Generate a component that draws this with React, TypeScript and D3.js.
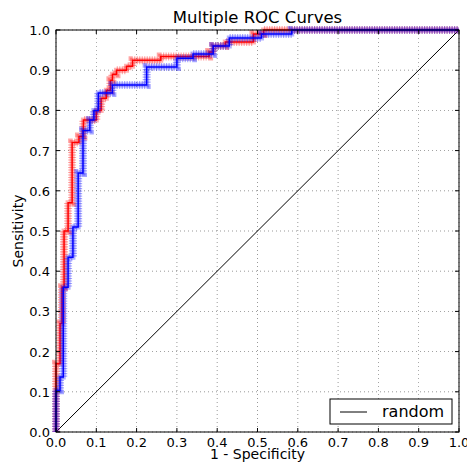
import React from "react";
import * as d3 from "d3";

const title = "Multiple ROC Curves";
const xLabel = "1 - Specificity";
const yLabel = "Sensitivity";
const ticks = [0, 0.1, 0.2, 0.3, 0.4, 0.5, 0.6, 0.7, 0.8, 0.9, 1.0];

// step ROC curve vertices [fpr, tpr]
const redFpr = [0, 0, 0.01, 0.01, 0.015, 0.015, 0.02, 0.02, 0.03, 0.03, 0.04, 0.04, 0.057, 0.057, 0.068, 0.068, 0.1, 0.1, 0.112, 0.112, 0.125, 0.125, 0.135, 0.135, 0.14, 0.14, 0.15, 0.15, 0.175, 0.175, 0.19, 0.19, 0.2, 0.2, 0.26, 0.26, 0.38, 0.38, 0.39, 0.39, 0.42, 0.42, 0.49, 0.49, 0.515, 0.515, 1.0];
const redTpr = [0, 0.17, 0.17, 0.27, 0.27, 0.36, 0.36, 0.50, 0.50, 0.57, 0.57, 0.72, 0.72, 0.735, 0.735, 0.776, 0.776, 0.80, 0.80, 0.83, 0.83, 0.85, 0.85, 0.875, 0.875, 0.89, 0.89, 0.90, 0.90, 0.91, 0.91, 0.925, 0.925, 0.925, 0.925, 0.934, 0.934, 0.945, 0.945, 0.96, 0.96, 0.97, 0.97, 0.99, 0.99, 1.0, 1.0];

const blueFpr = [0, 0, 0.01, 0.01, 0.018, 0.018, 0.03, 0.03, 0.042, 0.042, 0.055, 0.055, 0.067, 0.067, 0.084, 0.084, 0.094, 0.094, 0.105, 0.105, 0.14, 0.14, 0.225, 0.225, 0.30, 0.30, 0.34, 0.34, 0.39, 0.39, 0.43, 0.43, 0.51, 0.51, 0.585, 0.585, 1.0];
const blueTpr = [0, 0.104, 0.104, 0.137, 0.137, 0.36, 0.36, 0.435, 0.435, 0.51, 0.51, 0.644, 0.644, 0.75, 0.75, 0.776, 0.776, 0.80, 0.80, 0.843, 0.843, 0.863, 0.863, 0.908, 0.908, 0.93, 0.93, 0.94, 0.94, 0.96, 0.96, 0.98, 0.98, 0.99, 0.99, 1.0, 1.0];

const randomX = [0, 1];
const randomY = [0, 1];

export default function App() {
  const W = 467, H = 466;
  const left = 56, right = 459, top = 30, bottom = 432;
  const x = d3.scaleLinear().domain([0, 1]).range([left, right]);
  const y = d3.scaleLinear().domain([0, 1]).range([bottom, top]);
  const line = d3.line<number>();
  const mk = (xs: number[], ys: number[]) =>
    line(xs.map((v, i) => [x(v), y(ys[i])]) as any) || "";
  const redPath = mk(redFpr, redTpr);
  const bluePath = mk(blueFpr, blueTpr);
  const randPath = mk(randomX, randomY);
  const font = "DejaVu Sans, sans-serif";

  return (
    <svg width={W} height={H} style={{ position: "absolute", left: 0, top: 0, background: "#fff" }}>
      <rect x={0} y={0} width={W} height={H} fill="#fff" />
      {/* grid */}
      {ticks.map((t) => (
        <g key={"g" + t}>
          <line x1={x(t)} x2={x(t)} y1={top} y2={bottom} stroke="#000" strokeWidth={0.5} strokeDasharray="1,3" opacity={0.8} />
          <line x1={left} x2={right} y1={y(t)} y2={y(t)} stroke="#000" strokeWidth={0.5} strokeDasharray="1,3" opacity={0.8} />
        </g>
      ))}
      {/* random */}
      <path d={randPath} fill="none" stroke="#000" strokeWidth={1} />
      {/* red */}
      <path d={redPath} fill="none" stroke="#ff0000" strokeOpacity={0.35} strokeWidth={8} strokeDasharray="1.2,1.3" />
      <path d={redPath} fill="none" stroke="#ff0000" strokeOpacity={0.3} strokeWidth={5} />
      <path d={redPath} fill="none" stroke="#ff0000" strokeWidth={1.5} />
      {/* blue */}
      <path d={bluePath} fill="none" stroke="#0000ff" strokeOpacity={0.35} strokeWidth={8} strokeDasharray="1.2,1.3" />
      <path d={bluePath} fill="none" stroke="#0000ff" strokeOpacity={0.3} strokeWidth={5} />
      <path d={bluePath} fill="none" stroke="#0000ff" strokeWidth={1.5} />
      {/* frame */}
      <rect x={left} y={top} width={right - left} height={bottom - top} fill="none" stroke="#000" strokeWidth={1} />
      {/* ticks */}
      {ticks.map((t) => (
        <g key={"t" + t}>
          <line x1={x(t)} x2={x(t)} y1={bottom} y2={bottom - 4} stroke="#000" />
          <line x1={x(t)} x2={x(t)} y1={top} y2={top + 4} stroke="#000" />
          <line x1={left} x2={left + 4} y1={y(t)} y2={y(t)} stroke="#000" />
          <line x1={right} x2={right - 4} y1={y(t)} y2={y(t)} stroke="#000" />
          <text x={x(t)} y={bottom + 15} textAnchor="middle" fontFamily={font} fontSize={13}>{t.toFixed(1)}</text>
          <text x={left - 6} y={y(t) + 5} textAnchor="end" fontFamily={font} fontSize={13}>{t.toFixed(1)}</text>
        </g>
      ))}
      <text x={257.5} y={23} textAnchor="middle" fontFamily={font} fontSize={16.5}>{title}</text>
      <text x={257.5} y={459} textAnchor="middle" fontFamily={font} fontSize={14}>{xLabel}</text>
      <text transform={`translate(23,${(top + bottom) / 2}) rotate(-90)`} textAnchor="middle" fontFamily={font} fontSize={14}>{yLabel}</text>
      {/* legend */}
      <rect x={330} y={399} width={122} height={25} fill="#fff" stroke="#000" strokeWidth={1} />
      <line x1={340} x2={367} y1={412} y2={412} stroke="#000" strokeWidth={1} />
      <text x={382} y={417} fontFamily={font} fontSize={16}>random</text>
    </svg>
  );
}
